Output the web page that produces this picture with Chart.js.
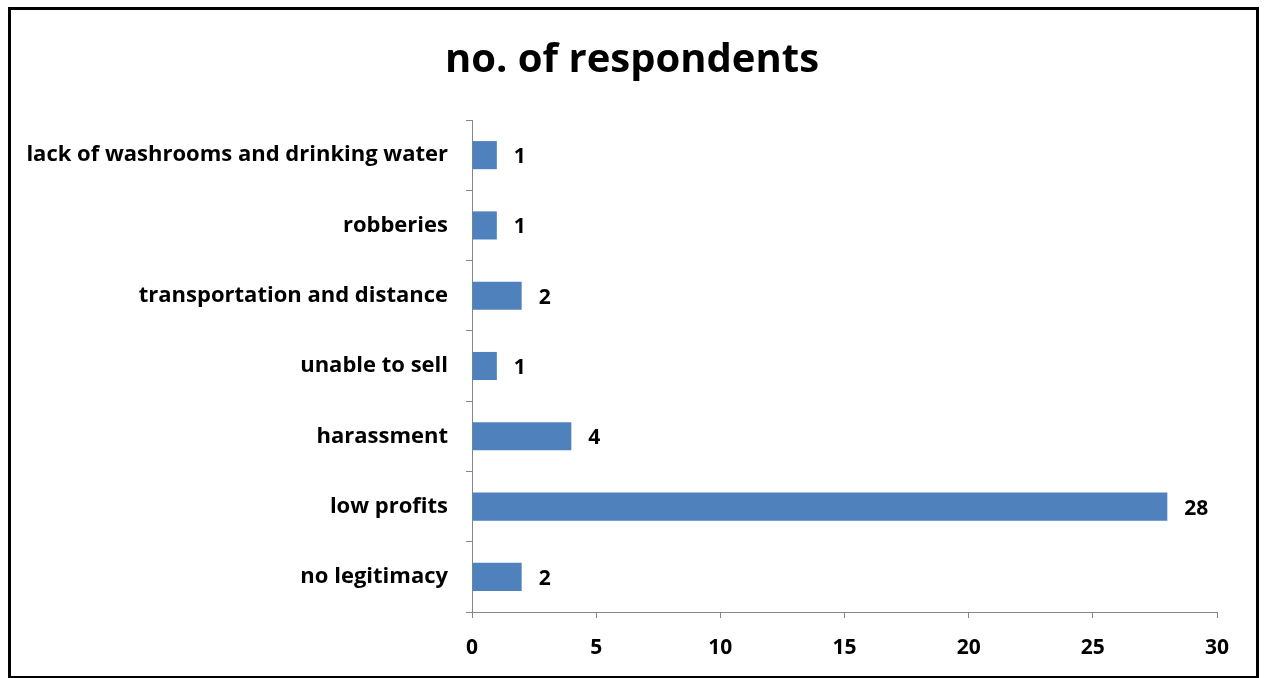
<!DOCTYPE html>
<html>
<head>
<meta charset="utf-8">
<script src="https://cdn.jsdelivr.net/npm/chart.js@4.4.0/dist/chart.umd.min.js"></script>
<style>
  html, body { margin: 0; padding: 0; background: #fff; overflow: hidden; }
  #wrap { position: absolute; left: 0; top: 0; width: 1264px; height: 678px; }
  #frame {
    position: absolute; left: 8px; top: 7px; width: 1251px; height: 672px;
    border: 3px solid #000; pointer-events: none; box-sizing: border-box;
  }
</style>
</head>
<body>
<div id="wrap"><canvas id="chart" width="1264" height="678"></canvas></div>
<div id="frame"></div>
<script>
const categories = [
  'lack of washrooms and drinking water',
  'robberies',
  'transportation and distance',
  'unable to sell',
  'harassment',
  'low profits',
  'no legitimacy'
];
const respondents = [1, 1, 2, 1, 4, 28, 2];
const xTicks = [0, 5, 10, 15, 20, 25, 30];

const FONT = '"Open Sans", "DejaVu Sans", sans-serif';
const AXIS_GREY = '#868686';

// draws the value next to each bar
const valueLabels = {
  id: 'valueLabels',
  afterDatasetsDraw(chart) {
    const ctx = chart.ctx;
    const meta = chart.getDatasetMeta(0);
    ctx.save();
    ctx.font = 'bold 21px ' + FONT;
    ctx.fillStyle = '#000';
    ctx.textAlign = 'left';
    ctx.textBaseline = 'middle';
    meta.data.forEach((bar, i) => {
      ctx.fillText(String(chart.data.datasets[0].data[i]), bar.x + 17, bar.y + 2);
    });
    ctx.restore();
  }
};

const ctx = document.getElementById('chart').getContext('2d');
new Chart(ctx, {
  type: 'bar',
  data: {
    labels: categories,
    datasets: [{
      label: 'no. of respondents',
      data: respondents,
      backgroundColor: '#4F81BD',
      borderWidth: 0,
      barPercentage: 0.4,
      categoryPercentage: 1.0
    }]
  },
  options: {
    indexAxis: 'y',
    responsive: false,
    animation: false,
    devicePixelRatio: 1,
    layout: { padding: 0 },
    plugins: {
      legend: { display: false },
      tooltip: { enabled: false },
      title: {
        display: true,
        text: 'no. of respondents',
        color: '#000',
        font: { family: FONT, size: 40, weight: 'bold', lineHeight: 1.2 },
        padding: { top: 37, bottom: 35 }
      }
    },
    scales: {
      x: {
        min: 0,
        max: 30,
        afterBuildTicks: (scale) => { scale.ticks = xTicks.map(v => ({ value: v })); },
        // fixed height, and right gap kept on the axis so the title stays page-centred
        afterFit: (scale) => { scale.height = 66; scale.paddingRight = 47; },
        grid: { drawOnChartArea: false, drawTicks: true, tickLength: 6, color: AXIS_GREY },
        border: { color: AXIS_GREY, width: 1 },
        ticks: {
          color: '#000',
          padding: 17,
          font: { family: FONT, size: 21, weight: 'bold' }
        }
      },
      y: {
        afterFit: (scale) => { scale.width = 472; },
        grid: { drawOnChartArea: false, drawTicks: true, tickLength: 6, color: AXIS_GREY, offset: true },
        border: { color: AXIS_GREY, width: 1 },
        ticks: {
          color: '#000',
          padding: 18,
          font: { family: FONT, size: 22, weight: 'bold' }
        }
      }
    }
  },
  plugins: [valueLabels]
});
</script>
</body>
</html>
